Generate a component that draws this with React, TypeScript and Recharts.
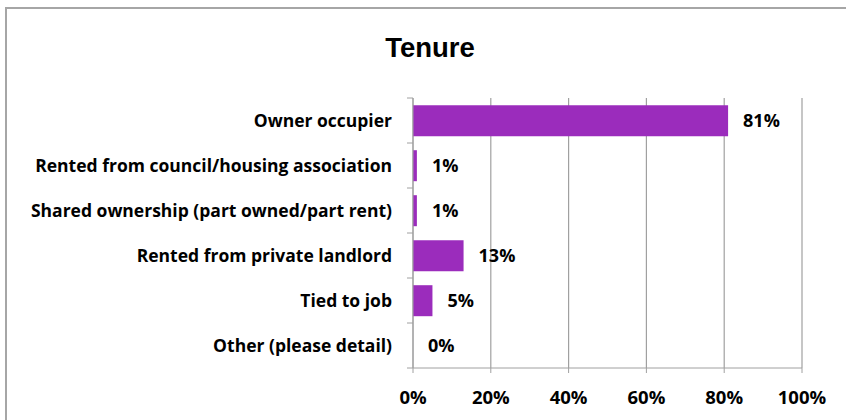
import React from 'react';
import { BarChart, Bar, XAxis, YAxis, CartesianGrid, LabelList } from 'recharts';

const categories = [
  'Owner occupier',
  'Rented from council/housing association',
  'Shared ownership (part owned/part rent)',
  'Rented from private landlord',
  'Tied to job',
  'Other (please detail)',
];
const shares = [81, 1, 1, 13, 5, 0];
const xTicks = [0, 20, 40, 60, 80, 100];

const data = categories.map((name, i) => ({ name, value: shares[i] }));

const FONT = '"Open Sans", Lato, sans-serif';
const BAR_COLOR = '#9b2cbc';
const AXIS_COLOR = '#a0a0a0';
const BAND = 45; // plot height / number of categories
const AXIS_X = 413;

// Excel-style category tick: label centred in band, tick mark at band edge
const CategoryTick = (props: any) => {
  const { y, payload, index } = props;
  return (
    <g>
      <line x1={AXIS_X - 6} x2={AXIS_X} y1={y - BAND / 2} y2={y - BAND / 2} stroke={AXIS_COLOR} />
      {index === categories.length - 1 && (
        <line x1={AXIS_X - 6} x2={AXIS_X} y1={y + BAND / 2} y2={y + BAND / 2} stroke={AXIS_COLOR} />
      )}
      <text x={AXIS_X - 21} y={y} dy="0.35em" textAnchor="end" fontFamily={FONT} fontWeight={700} fontSize={17.5} fill="#000">
        {payload.value}
      </text>
    </g>
  );
};

export default function App() {
  return (
    <div style={{ position: 'absolute', left: 0, top: 0, width: 846, height: 420, background: '#fff' }}>
      <svg width={846} height={420} style={{ position: 'absolute', left: 0, top: 0 }}>
        <rect x={6} y={8} width={900} height={500} fill="none" stroke="#a6a6a6" strokeWidth={2} />
        <text x={430} y={57} textAnchor="middle" fontFamily='"Liberation Sans", Arial, sans-serif' fontWeight={700} fontSize={27.5} fill="#000">
          Tenure
        </text>
      </svg>
      <div style={{ position: 'absolute', left: 0, top: 0 }}>
        <BarChart
          width={846}
          height={420}
          data={data}
          layout="vertical"
          margin={{ top: 98, right: 44, bottom: 22, left: 0 }}
          barCategoryGap="16%"
        >
          <CartesianGrid horizontal={false} stroke={AXIS_COLOR} strokeWidth={1.2} />
          <XAxis
            type="number"
            domain={[0, 100]}
            ticks={xTicks}
            tickFormatter={(v) => `${v}%`}
            height={30}
            axisLine={{ stroke: AXIS_COLOR }}
            tickLine={{ stroke: AXIS_COLOR }}
            tickSize={5}
            tickMargin={18}
            tick={{ fontFamily: FONT, fontWeight: 700, fontSize: 18.5, fill: '#000' }}
          />
          <YAxis
            type="category"
            dataKey="name"
            width={AXIS_X}
            axisLine={{ stroke: AXIS_COLOR }}
            tickLine={false}
            tick={<CategoryTick />}
            interval={0}
          />
          <Bar dataKey="value" fill={BAR_COLOR} minPointSize={0.01} isAnimationActive={false}>
            <LabelList
              dataKey="value"
              position="right"
              offset={15}
              formatter={(v: any) => `${v}%`}
              style={{ fontFamily: FONT, fontWeight: 700, fontSize: 18, fill: '#000' }}
            />
          </Bar>
        </BarChart>
      </div>
    </div>
  );
}
